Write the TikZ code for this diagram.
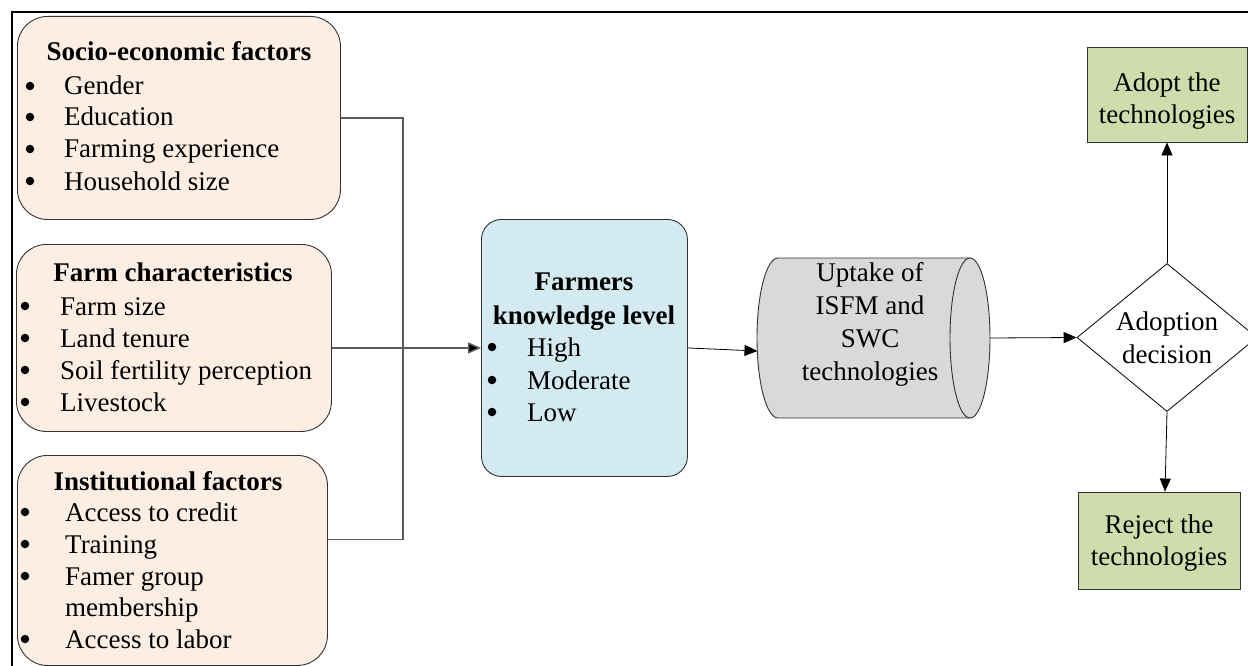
\documentclass[tikz,border=0pt]{standalone}
\usepackage{fontspec}
\setmainfont{Liberation Serif}
\usetikzlibrary{arrows.meta,shapes.geometric,calc}
\definecolor{peach}{HTML}{FDEEE3}
\definecolor{lblue}{HTML}{D3EAF0}
\definecolor{cgray}{HTML}{D9D9D9}
\definecolor{lgreen}{HTML}{CFDCAC}
\definecolor{conn}{HTML}{5A5A5A}
\begin{document}
\begin{tikzpicture}[x=1pt,y=-1pt,
  txt/.style={font=\fontsize{27}{31.5}\selectfont, inner sep=0pt, text height=20pt, text depth=4pt},
  hd/.style={txt, font=\fontsize{27}{31.5}\selectfont\bfseries},
  mtxt/.style={font=\fontsize{27}{33}\selectfont, inner sep=0pt, align=center},
  bul/.style={circle, fill=black, inner sep=0pt, minimum size=8.5pt, yshift=1pt},
  fbox/.style={draw=black!80, line width=0.9pt, fill=peach, rounded corners=30pt, anchor=north west, inner sep=0pt},
  kbox/.style={draw=black!80, line width=0.9pt, fill=lblue, rounded corners=20pt, anchor=north west, inner sep=0pt},
  gbox/.style={draw=black!80, line width=0.9pt, fill=lgreen, inner sep=0pt, align=center, font=\fontsize{27}{32}\selectfont},
  grayline/.style={draw=conn, line width=1.4pt},
  arr/.style={draw=black, line width=0.8pt, -{Triangle[length=13pt,width=11pt]}},
  garr/.style={grayline, -{Triangle[length=13pt,width=11pt,fill=black]}},
]
\useasboundingbox (0,0) rectangle (1248,666);
% frame
\draw[line width=2pt] (12,666) -- (12,12) -- (1248,12);

% box 1
\node[fbox, minimum width=323pt, minimum height=203pt] (b1) at (17,16) {};
\node[hd] (b1h) at (179,53) {Socio-economic factors};
\node[bul] (b1a) at (30,87) {};   \node[txt, anchor=west] (b1at) at (64,87) {Gender};
\node[bul] (b1b) at (30,118) {};  \node[txt, anchor=west] (b1bt) at (64,118) {Education};
\node[bul] (b1c) at (30,150) {};  \node[txt, anchor=west] (b1ct) at (64,150) {Farming experience};
\node[bul] (b1d) at (30,182) {};  \node[txt, anchor=west] (b1dt) at (64,182) {Household size};

% box 2
\node[fbox, minimum width=315pt, minimum height=187pt] (b2) at (16,244) {};
\node[hd] (b2h) at (173,273) {Farm characteristics};
\node[bul] (b2a) at (25,307) {};  \node[txt, anchor=west] (b2at) at (60,307) {Farm size};
\node[bul] (b2b) at (25,339) {};  \node[txt, anchor=west] (b2bt) at (60,339) {Land tenure};
\node[bul] (b2c) at (25,371) {};  \node[txt, anchor=west] (b2ct) at (60,371) {Soil fertility perception};
\node[bul] (b2d) at (25,403) {};  \node[txt, anchor=west] (b2dt) at (60,403) {Livestock};

% box 3
\node[fbox, minimum width=310pt, minimum height=210pt] (b3) at (17,455) {};
\node[hd] (b3h) at (168,482) {Institutional factors};
\node[bul] (b3a) at (25,513) {};  \node[txt, anchor=west] (b3at) at (65,513) {Access to credit};
\node[bul] (b3b) at (25,545) {};  \node[txt, anchor=west] (b3bt) at (65,545) {Training};
\node[bul] (b3c) at (25,577) {};  \node[txt, anchor=west] (b3ct) at (65,577) {Famer group};
\node[txt, anchor=west] (b3ct2) at (65,608) {membership};
\node[bul] (b3d) at (25,640) {};  \node[txt, anchor=west] (b3dt) at (65,640) {Access to labor};

% knowledge box
\node[kbox, minimum width=206pt, minimum height=257pt] (kn) at (481,219) {};
\node[hd] (knh1) at (584,282) {Farmers};
\node[hd] (knh2) at (584,316) {knowledge level};
\node[bul] (kna) at (492,348) {}; \node[txt, anchor=west] (knat) at (527,348) {High};
\node[bul] (knb) at (492,381) {}; \node[txt, anchor=west] (knbt) at (527,381) {Moderate};
\node[bul] (knc) at (492,413) {}; \node[txt, anchor=west] (knct) at (527,413) {Low};

% cylinder
\fill[cgray] (778,258) -- (970,258) arc[start angle=-90, end angle=90, x radius=20, y radius=80]
  -- (778,418) arc[start angle=90, end angle=270, x radius=21, y radius=80] -- cycle;
\draw[black!80, line width=0.9pt] (778,258) -- (970,258) arc[start angle=-90, end angle=90, x radius=20, y radius=80]
  -- (778,418) arc[start angle=90, end angle=270, x radius=21, y radius=80] -- cycle;
\draw[black!80, line width=0.9pt] (970,258) arc[start angle=270, end angle=90, x radius=20, y radius=80];
\node[mtxt] (cyl) at (870,324) {Uptake of\\ISFM and\\SWC\\technologies};
\coordinate (cylIn) at (757.5,351);
\coordinate (cylOut) at (990,338);

% decision
\node[diamond, draw=black, line width=0.8pt, aspect=1.21, minimum width=180pt, minimum height=148pt, inner sep=0pt,
  font=\fontsize{27}{33}\selectfont, align=center] (dec) at (1167,337.5) {Adoption\\decision};

% outcome boxes
\node[gbox, minimum width=160pt, minimum height=95pt] (adopt) at (1167,94.5) {\rule{0pt}{31pt}Adopt the\\technologies};
\node[gbox, minimum width=162pt, minimum height=97pt] (reject) at (1159,540.5) {\rule{0pt}{23pt}Reject the\\technologies};

% connectors
\coordinate (j1) at (403,0);
\draw[grayline] (b1.east) -- (b1.east -| j1) -- ($(b3.east -| j1)+(0,-21)$) -- ($(b3.east)+(0,-21)$);
\draw[garr] (b2.east |- kn.west) -- (kn.west);
\draw[arr] (kn.east) -- (cylIn);
\draw[arr] (cylOut) -- (dec.west);
\draw[arr] (dec.north) -- (adopt.south);
\draw[arr] (dec.south) -- ($(reject.north)+(6,0)$);
\end{tikzpicture}
\end{document}
